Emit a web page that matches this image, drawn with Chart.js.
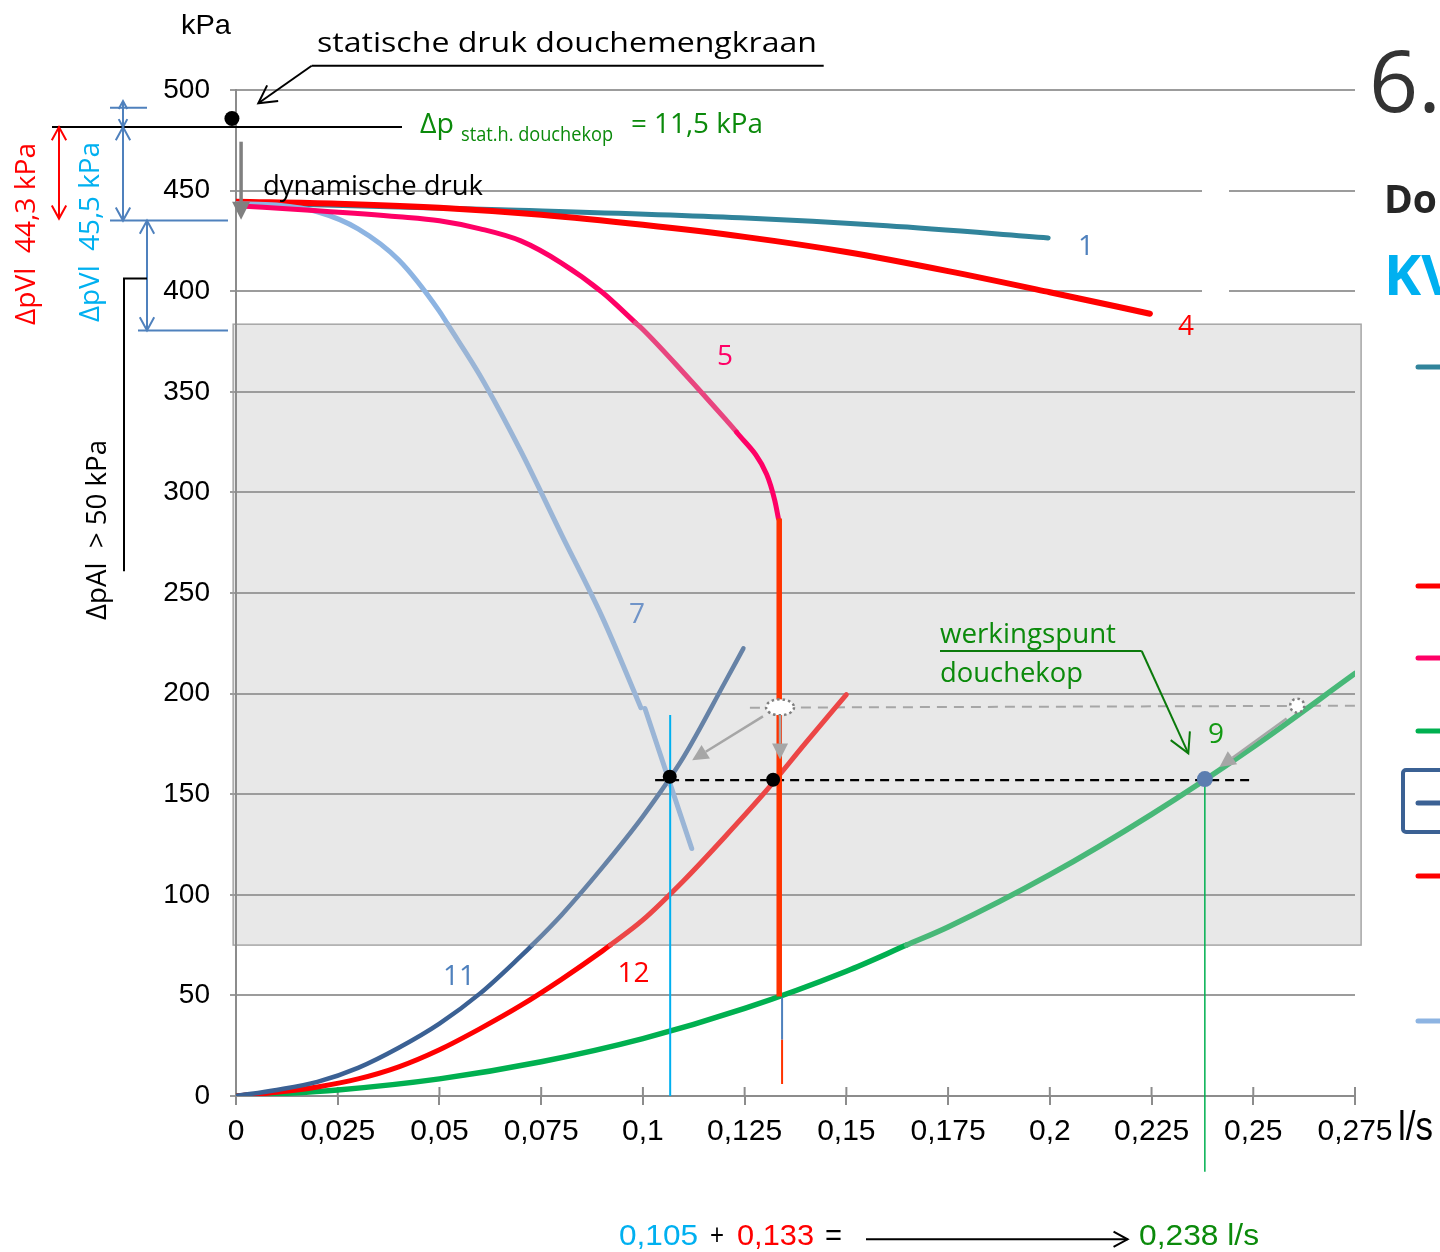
<!DOCTYPE html>
<html>
<head>
<meta charset="utf-8">
<script src="https://cdn.jsdelivr.net/npm/chart.js@4.4.0/dist/chart.umd.min.js"></script>
<style>
  body { margin: 0; background: #fff; }
  canvas { display: block; }
</style>
</head>
<body>
<canvas id="grafiek" width="1440" height="1252"></canvas>
<script>
// assen
const xTicks = [0, 0.025, 0.05, 0.075, 0.1, 0.125, 0.15, 0.175, 0.2, 0.225, 0.25, 0.275];
const yTicks = [0, 50, 100, 150, 200, 250, 300, 350, 400, 450, 500];

// leidingkrommen: debiet q (l/s) en druk p (kPa)
const q1 = [0, 0.065, 0.124, 0.16, 0.1996];
const p1 = [444, 440.5, 436.5, 432.5, 426.5];
const q4 = [0, 0.025, 0.05, 0.075, 0.1, 0.125, 0.15, 0.175, 0.2, 0.2246];
const p4 = [444.5, 443.5, 441.5, 438, 433, 427, 419.5, 410, 399.5, 388.8];
const q5 = [0, 0.02, 0.04, 0.05, 0.06, 0.07, 0.08, 0.09, 0.0982, 0.1, 0.11, 0.12, 0.123, 0.1304, 0.1324, 0.1333];
const p5 = [442.5, 440, 437, 435, 431, 425, 414, 399.5, 384.3, 381, 359.5, 337, 330, 309, 296, 287];
const q5v = [0.1335, 0.1335];
const p5v = [287, 49.5];
const q7a = [0, 0.01, 0.02, 0.03, 0.04, 0.05, 0.052, 0.06, 0.07, 0.08, 0.09, 0.0995];
const p7a = [443.5, 442.8, 439.5, 431, 415.5, 390, 383.6, 358, 320.5, 279, 238, 193];
const q7b = [0.1005, 0.112];
const p7b = [192.6, 123];
const q9 = [0, 0.025, 0.05, 0.075, 0.1, 0.125, 0.15, 0.1648, 0.175, 0.2, 0.225, 0.25, 0.275];
const p9 = [0, 3, 8.5, 17, 28.5, 43.5, 62, 75, 84, 110, 140, 173.5, 210];
const q11 = [0, 0.01, 0.02, 0.03, 0.04, 0.05, 0.06, 0.07, 0.0728, 0.08, 0.09, 0.1, 0.11, 0.12, 0.1247];
const p11 = [0, 3, 7, 14, 24, 36, 51, 69.5, 75, 90, 113.5, 139, 168.5, 205, 222.5];
const q12 = [0, 0.01, 0.02, 0.03, 0.04, 0.05, 0.06, 0.07, 0.08, 0.09, 0.092, 0.1, 0.11, 0.12, 0.13, 0.14, 0.15];
const p12 = [0, 1.8, 4.5, 8.5, 14.5, 23, 33.5, 45, 58, 72, 75, 87.5, 107, 128.5, 151, 175.5, 199.5];

// hulplijnen en punten
const qThin = [0.1342, 0.1342];
const pThinBlauw = [49, 28];
const pThinRood = [28, 6];
const qCyaan = [0.1067, 0.1067];
const pCyaan = [189.4, -1];
const qGroen = [0.2381, 0.2381];
const pGroen = [157.5, -37.7];
const qZwartStreep = [0.103, 0.2499];
const pZwartStreep = [157, 157];
const qGrijsStreep = [0.1263, 0.2756];
const pGrijsStreep = [193, 194];
const qPunten = [0.1066, 0.132];
const pPunten = [158.7, 157.2];
const qWerkpunt = [0.2381];
const pWerkpunt = [157.5];
const qStatisch = [-0.001];
const pStatisch = [485.8];
const boxQ = [-0.0007, 0.2765];
const boxP = [75, 383.6];

const TXT = '"Open Sans", "Noto Sans", sans-serif';
const NUM = '"Liberation Sans", Arial, sans-serif';
const GROEN_TXT = '#0B8A0B';

const pts = (q, p) => q.map((x, i) => ({ x: x, y: p[i] }));

function lichtInVak(kleur, lo, hi) {
  const inVak = y => y >= lo && y <= hi;
  return { borderColor: c => (inVak(c.p0.parsed.y) && inVak(c.p1.parsed.y)) ? kleur : undefined };
}

function kromme(q, p, kleur, breedte, licht, lo, hi) {
  const ds = {
    data: pts(q, p), showLine: true, borderColor: kleur, borderWidth: breedte,
    pointRadius: 0, cubicInterpolationMode: 'monotone', borderCapStyle: 'round',
    borderJoinStyle: 'round', fill: false
  };
  if (licht) ds.segment = lichtInVak(licht, lo === undefined ? 74.9 : lo, hi === undefined ? 384 : hi);
  return ds;
}

function recht(q, p, kleur, breedte, streep) {
  return {
    data: pts(q, p), showLine: true, borderColor: kleur, borderWidth: breedte,
    pointRadius: 0, borderDash: streep || [], fill: false, tension: 0
  };
}

function punten(q, p, kleur, r) {
  return {
    data: pts(q, p), showLine: false, pointRadius: r, pointBackgroundColor: kleur,
    pointBorderWidth: 0, clip: false
  };
}

// onderste eerst
const datasets = [
  recht(qGrijsStreep, pGrijsStreep, '#A6A6A6', 2, [10, 7]),
  kromme(q1, p1, '#31849B', 5),
  kromme(q4, p4, '#FF0000', 6),
  kromme(q9, p9, '#00B050', 5.5, '#48B878'),
  kromme(q12, p12, '#FF0000', 5, '#EC4646'),
  kromme(q11, p11, '#3B6194', 4.5, '#6682A6'),
  kromme(q7a, p7a, '#8DB4E2', 5, '#9AB5D6'),
  kromme(q7b, p7b, '#8DB4E2', 5, '#9AB5D6', 0, 400),
  kromme(q5, p5, '#FF0066', 5, '#E8457F', 329.5, 384.5),
  Object.assign(recht(qGroen, pGroen, '#00B050', 1.5), { clip: false }),
  recht(qZwartStreep, pZwartStreep, '#000000', 2.2, [9, 6]),
  recht(qCyaan, pCyaan, '#00B0F0', 2),
  recht(q5v, p5v, '#FF3300', 5.5),
  recht(qThin, pThinBlauw, '#4F81BD', 2),
  recht(qThin, pThinRood, '#FF3300', 2),
  punten(qPunten, pPunten, '#000000', 7),
  punten(qWerkpunt, pWerkpunt, '#5B7DB0', 8),
  punten(qStatisch, pStatisch, '#000000', 7.5)
];
datasets.forEach((d, i) => { d.order = datasets.length - i; });

function txt(ctx, s, x, y, o) {
  ctx.save();
  ctx.font = (o.bold ? 'bold ' : '') + o.size + 'px ' + (o.family || TXT);
  ctx.fillStyle = o.color || '#000';
  ctx.textBaseline = 'alphabetic';
  ctx.textAlign = o.align || 'left';
  ctx.translate(x, y);
  if (o.rot) ctx.rotate(o.rot);
  if (o.width) ctx.scale(o.width / ctx.measureText(s).width, 1);
  ctx.fillText(s, 0, 0);
  ctx.restore();
}

function lijn(ctx, pts, kleur, w) {
  ctx.save();
  ctx.strokeStyle = kleur; ctx.lineWidth = w;
  ctx.beginPath();
  ctx.moveTo(pts[0][0], pts[0][1]);
  for (let i = 1; i < pts.length; i++) ctx.lineTo(pts[i][0], pts[i][1]);
  ctx.stroke();
  ctx.restore();
}

// open pijlpunt
function kop(ctx, x1, y1, x2, y2, kleur, w, len) {
  const a = Math.atan2(y2 - y1, x2 - x1), h = 0.5;
  lijn(ctx, [[x2 - len * Math.cos(a - h), y2 - len * Math.sin(a - h)], [x2, y2],
    [x2 - len * Math.cos(a + h), y2 - len * Math.sin(a + h)]], kleur, w);
}

function pijl(ctx, x1, y1, x2, y2, kleur, w, len) {
  lijn(ctx, [[x1, y1], [x2, y2]], kleur, w);
  kop(ctx, x1, y1, x2, y2, kleur, w, len);
}

function dubbelPijl(ctx, x, y1, y2, kleur, w, len) {
  lijn(ctx, [[x, y1], [x, y2]], kleur, w);
  kop(ctx, x, y2, x, y1, kleur, w, len);
  kop(ctx, x, y1, x, y2, kleur, w, len);
}

// gevulde pijlpunt (grijs)
function grijsPijl(ctx, x1, y1, x2, y2, kleur, w, len, half) {
  const a = Math.atan2(y2 - y1, x2 - x1);
  const bx = x2 - len * Math.cos(a), by = y2 - len * Math.sin(a);
  lijn(ctx, [[x1, y1], [bx, by]], kleur, w);
  ctx.save();
  ctx.fillStyle = kleur;
  ctx.beginPath();
  ctx.moveTo(x2, y2);
  ctx.lineTo(bx + half * Math.sin(a), by - half * Math.cos(a));
  ctx.lineTo(bx - half * Math.sin(a), by + half * Math.cos(a));
  ctx.closePath();
  ctx.fill();
  ctx.restore();
}

function stippelOvaal(ctx, x, y, rx, ry) {
  ctx.save();
  ctx.beginPath();
  ctx.ellipse(x, y, rx, ry, 0, 0, Math.PI * 2);
  ctx.fillStyle = '#fff';
  ctx.fill();
  ctx.setLineDash([2.5, 3]);
  ctx.strokeStyle = '#7F7F7F';
  ctx.lineWidth = 2.5;
  ctx.stroke();
  ctx.restore();
}

const extra = {
  id: 'extra',
  beforeDraw(chart) {
    const ctx = chart.ctx, sx = chart.scales.x, sy = chart.scales.y;
    const x0 = sx.getPixelForValue(boxQ[0]), x1 = sx.getPixelForValue(boxQ[1]);
    const y0 = sy.getPixelForValue(boxP[1]), y1 = sy.getPixelForValue(boxP[0]);
    ctx.save();
    ctx.fillStyle = '#E8E8E8';
    ctx.fillRect(x0, y0, x1 - x0, y1 - y0);
    ctx.strokeStyle = '#A6A6A6';
    ctx.lineWidth = 1.5;
    ctx.strokeRect(x0, y0, x1 - x0, y1 - y0);
    ctx.restore();
  },
  beforeDatasetsDraw(chart) {
    const ctx = chart.ctx, sx = chart.scales.x, sy = chart.scales.y;
    const bodem = chart.chartArea.bottom;
    // kruisende maatstreepjes op de x-as
    sx.ticks.forEach(t => {
      const x = sx.getPixelForValue(t.value);
      lijn(ctx, [[x, bodem - 9], [x, bodem]], '#8C8C8C', 2);
    });
    // onderbreking in de rasterlijnen 450 en 400
    ctx.save();
    ctx.fillStyle = '#fff';
    ctx.fillRect(1202, sy.getPixelForValue(460), 27, sy.getPixelForValue(390) - sy.getPixelForValue(460));
    ctx.restore();
  },
  afterDraw(chart) {
    const ctx = chart.ctx, sx = chart.scales.x, sy = chart.scales.y;
    const X = v => sx.getPixelForValue(v), Y = v => sy.getPixelForValue(v);

    // statische druk
    lijn(ctx, [[52, Y(481.6)], [402, Y(481.6)]], '#000', 2);
    lijn(ctx, [[823.7, 65.7], [311.7, 65.7]], '#000', 2);
    pijl(ctx, 311.7, 65.7, 258.3, 103.3, '#000', 2, 20);
    grijsPijl(ctx, X(0.00125), 141.7, X(0.00125), Y(435.5), '#808080', 3.5, 18, 9);

    // maatlijnen links
    dubbelPijl(ctx, 59, Y(481.6), Y(436.1), '#FF0000', 2, 15);
    lijn(ctx, [[110, Y(491.2)], [147, Y(491.2)]], '#4F81BD', 2);
    lijn(ctx, [[123, Y(494.5)], [123, Y(481.6)]], '#4F81BD', 2);
    kop(ctx, 123, Y(481.6), 123, Y(494.5), '#4F81BD', 2, 9);
    kop(ctx, 123, Y(491.2), 123, Y(481.6), '#4F81BD', 2, 9);
    dubbelPijl(ctx, 123, Y(481.6), Y(435.1), '#4F81BD', 2, 15);
    lijn(ctx, [[110, Y(435.1)], [228, Y(435.1)]], '#4F81BD', 2);
    dubbelPijl(ctx, 147, Y(435.1), Y(380.5), '#4F81BD', 2, 15);
    lijn(ctx, [[138, Y(380.5)], [228, Y(380.5)]], '#4F81BD', 2);
    lijn(ctx, [[147, Y(406.3)], [124, Y(406.3)], [124, Y(260.8)]], '#000', 2);

    txt(ctx, 'ΔpVl  44,3 kPa', 35, 234, { size: 28, color: '#FF0000', align: 'center', rot: -Math.PI / 2, width: 182 });
    txt(ctx, 'ΔpVl  45,5 kPa', 99, 232, { size: 28, color: '#00B0F0', align: 'center', rot: -Math.PI / 2, width: 180 });
    txt(ctx, 'ΔpAl  > 50 kPa', 106, 530, { size: 28, color: '#000', align: 'center', rot: -Math.PI / 2, width: 180 });

    // grijze verschuivingspijlen
    stippelOvaal(ctx, X(0.1337), Y(193.2), 14, 8);
    stippelOvaal(ctx, X(0.2608), Y(194), 7, 7);
    grijsPijl(ctx, X(0.1295), Y(188.7), X(0.1121), Y(166.9), '#A6A6A6', 2.5, 16, 8);
    grijsPijl(ctx, X(0.1337), Y(189.2), X(0.1337), Y(167.2), '#A6A6A6', 2.5, 16, 8);
    grijsPijl(ctx, X(0.2582), Y(187.6), X(0.2417), Y(163.5), '#A6A6A6', 2.5, 16, 8);

    // werkingspunt
    lijn(ctx, [[940, 651], [1141.7, 651]], '#0B7A0B', 2);
    pijl(ctx, 1141.7, 651, 1188.3, 753.3, '#0B7A0B', 2, 22);

    // teksten
    txt(ctx, 'kPa', 206, 34, { size: 28, family: NUM, align: 'center', width: 50 });
    txt(ctx, 'statische druk douchemengkraan', 317, 52, { size: 27, width: 500 });
    txt(ctx, 'Δp', 420, 133, { size: 28, color: GROEN_TXT, width: 34 });
    txt(ctx, 'stat.h. douchekop', 461, 141, { size: 20, color: GROEN_TXT, width: 152 });
    txt(ctx, '= 11,5 kPa', 631, 133, { size: 28, color: GROEN_TXT, width: 132 });
    txt(ctx, 'dynamische druk', 263, 195, { size: 27, width: 220 });
    txt(ctx, '1', 1086, 255, { size: 28, color: '#4F81BD', align: 'center' });
    txt(ctx, '4', 1186, 335, { size: 28, color: '#FF0000', align: 'center' });
    txt(ctx, '5', 725, 365, { size: 28, color: '#FF0066', align: 'center' });
    txt(ctx, '7', 637, 622.7, { size: 28, color: '#7094C8', align: 'center' });
    txt(ctx, '11', 459, 985, { size: 28, color: '#4F81BD', align: 'center' });
    txt(ctx, '12', 633.5, 981.7, { size: 28, color: '#FF0000', align: 'center' });
    txt(ctx, '9', 1216, 743, { size: 28, color: '#139A13', align: 'center' });
    txt(ctx, 'werkingspunt', 940, 643, { size: 28, color: GROEN_TXT, width: 176 });
    txt(ctx, 'douchekop', 940, 681.7, { size: 28, color: GROEN_TXT, width: 143 });
    txt(ctx, 'l/s', 1398, 1140, { size: 40, family: NUM, width: 35 });

    // rechterkant
    txt(ctx, '6.', 1369, 111.7, { size: 86, color: '#333333' });
    txt(ctx, 'Do', 1384, 213, { size: 39, bold: true, color: '#262626' });
    txt(ctx, 'KV', 1384, 295, { size: 56, bold: true, color: '#00B0F0' });
    const legenda = [[367, '#31849B'], [586, '#FF0000'], [658, '#FF0066'], [731, '#00B050'],
      [803, '#3B6194'], [876, '#FF0000'], [1021, '#8DB4E2']];
    legenda.forEach(([y, k]) => {
      ctx.save();
      ctx.lineCap = 'round';
      lijn(ctx, [[1418, y], [1445, y]], k, 5);
      ctx.restore();
    });
    ctx.save();
    ctx.strokeStyle = '#3B6194';
    ctx.lineWidth = 4;
    ctx.beginPath();
    ctx.roundRect(1403, 770, 60, 62, 3);
    ctx.stroke();
    ctx.restore();

    // som onderaan
    txt(ctx, '0,105', 619, 1245, { size: 30, family: NUM, color: '#00B0F0', width: 79 });
    txt(ctx, '+', 710, 1245, { size: 30, family: NUM, width: 14 });
    txt(ctx, '0,133', 737, 1245, { size: 30, family: NUM, color: '#FF0000', width: 77 });
    txt(ctx, '=', 825, 1245, { size: 30, family: NUM, width: 17 });
    pijl(ctx, 866, 1239.3, 1127.6, 1239.3, '#000', 2, 16);
    txt(ctx, '0,238 l/s', 1139, 1245, { size: 30, family: NUM, color: GROEN_TXT, width: 120 });
  }
};

const ctx = document.getElementById('grafiek').getContext('2d');
new Chart(ctx, {
  type: 'line',
  data: { datasets: datasets },
  options: {
    responsive: false,
    animation: false,
    devicePixelRatio: 1,
    layout: { padding: { top: 90, right: 85, left: 0, bottom: 0 } },
    plugins: { legend: { display: false }, tooltip: { enabled: false } },
    scales: {
      x: {
        type: 'linear', min: 0, max: 0.275,
        afterBuildTicks: axis => { axis.ticks = xTicks.map(v => ({ value: v })); },
        afterFit: s => { s.height = 156; },
        grid: { drawOnChartArea: false, color: '#8C8C8C', lineWidth: 2, tickLength: 9 },
        border: { color: '#8C8C8C', width: 2 },
        ticks: {
          autoSkip: false, maxRotation: 0, padding: 9, color: '#000',
          font: { family: NUM, size: 30 },
          callback: v => v === 0 ? '0' : String(+v.toFixed(3)).replace('.', ',')
        }
      },
      y: {
        type: 'linear', min: 0, max: 500,
        afterBuildTicks: axis => { axis.ticks = yTicks.map(v => ({ value: v })); },
        afterFit: s => { s.width = 236; },
        grid: { color: '#9C9C9C', lineWidth: 2, tickLength: 6 },
        border: { color: '#8C8C8C', width: 2 },
        ticks: { padding: 20, color: '#000', font: { family: NUM, size: 28 } }
      }
    }
  },
  plugins: [extra]
});
</script>
</body>
</html>
